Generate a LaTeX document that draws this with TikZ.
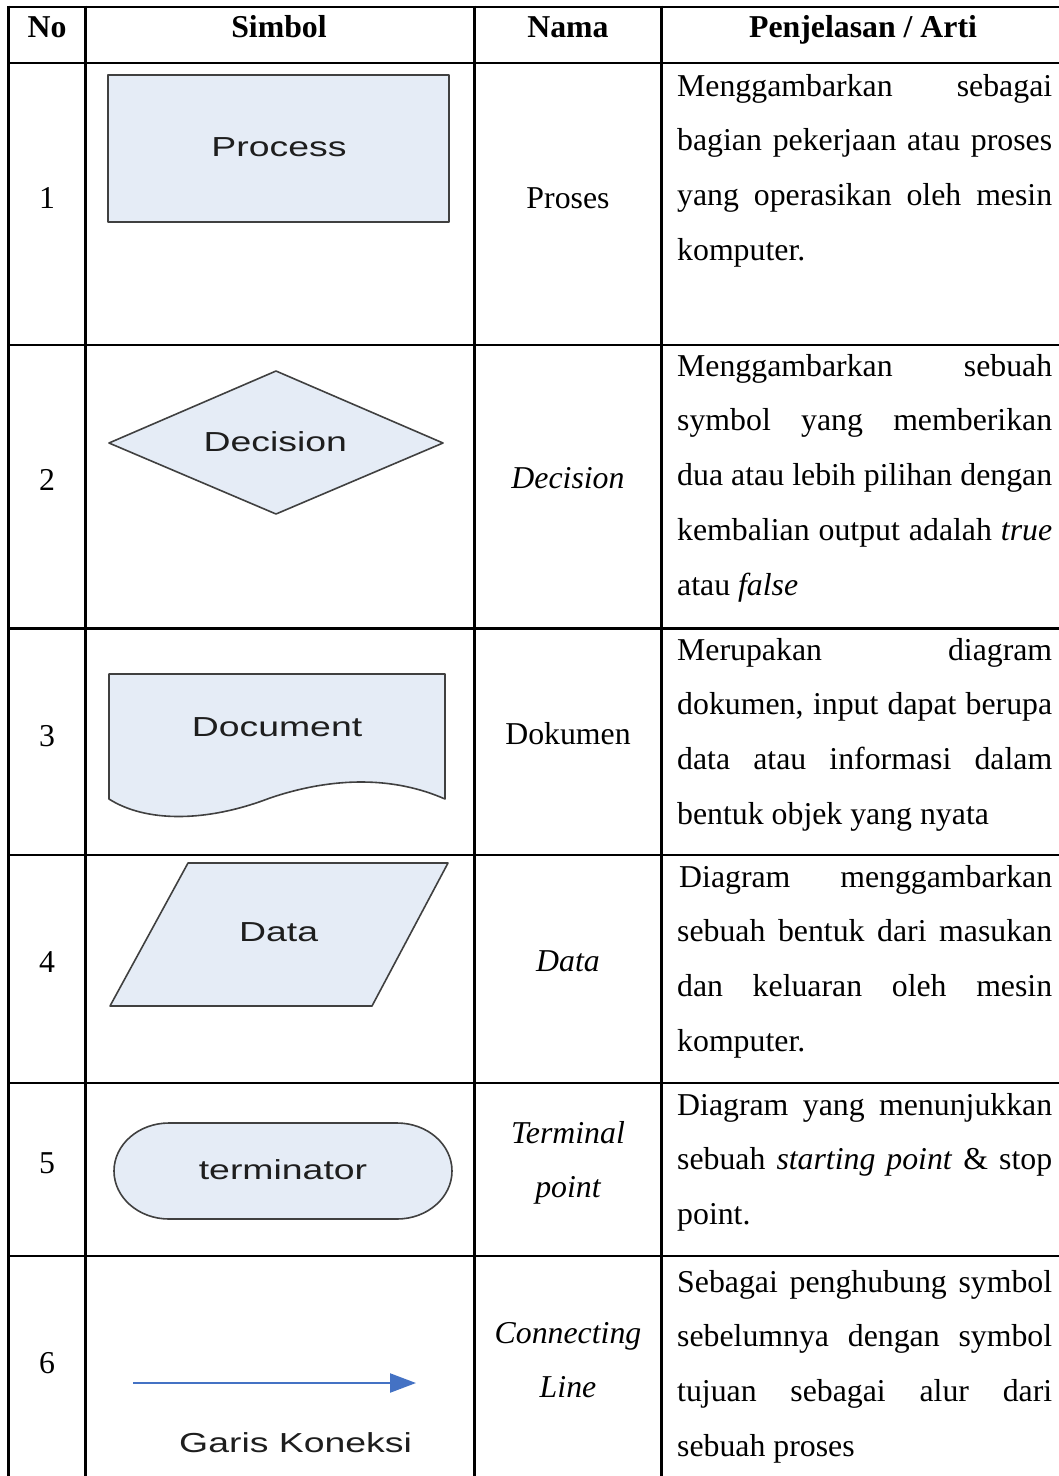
\documentclass[tikz,border=0pt]{standalone}
\usepackage{fontspec}
\setmainfont{Liberation Serif}
\newfontfamily\symfont[FakeStretch=1.36]{Liberation Sans}
\usetikzlibrary{arrows.meta}

\definecolor{symfill}{HTML}{E5ECF6}
\definecolor{symedge}{HTML}{404040}
\definecolor{symtext}{HTML}{1E1E1E}
\definecolor{arrowblue}{HTML}{4472C4}

\begin{document}
\begin{tikzpicture}[x=1pt, y=-1pt,
    font=\fontsize{31.8}{54.8}\selectfont,
    rule/.style={line width=2.8pt},
    shapeline/.style={draw=symedge, fill=symfill, line width=1.6pt, line join=round},
    symlabel/.style={anchor=base, inner sep=0pt, text=symtext, font=\symfont\fontsize{27.5}{33}\selectfont},
    cell/.style={anchor=base, inner sep=0pt},
    head/.style={cell, font=\bfseries\fontsize{31.8}{54.8}\selectfont},
    desc/.style={anchor=base west, inner sep=0pt, text width=375pt, align=justify},
    connline/.style={draw=arrowblue, line width=2.3pt, -{Triangle[length=26pt, width=19pt]}}]
    \useasboundingbox (0,0) rectangle (1059,1476);

    % table rules
    \foreach \yy in {7,63,345,628.5,855,1083,1256}
        \draw[rule] (7,\yy) -- (1062,\yy);
    \foreach \xx in {8.5,85.5,474.5,661.5}
        \draw[rule] (\xx,5.6) -- (\xx,1480);

    % header
    \node[head] (hNo) at (47,37) {No};
    \node[head] (hSimbol) at (279,37) {Simbol};
    \node[head] (hNama) at (568,37) {Nama};
    \node[head] (hArti) at (863,37) {Penjelasan / Arti};

    % row numbers
    \foreach \nn/\yy in {1/208,2/490,3/746,4/972,5/1173,6/1373}
        \node[cell] (no\nn) at (47,\yy) {\nn};

    % symbols
    \filldraw[shapeline] (108,75) rectangle (449,222);
    \node[symlabel] (symProcess) at (279,156.7) {Process};

    \filldraw[shapeline] (109,443) -- (276,371) -- (443,443) -- (276,514) -- cycle;
    \node[symlabel] (symDecision) at (275.3,451.7) {Decision};

    \filldraw[shapeline] (109,674) -- (445,674) -- (445,799)
        .. controls (395,777) and (335,776) .. (270,798)
        .. controls (205,823) and (145,822) .. (109,799) -- cycle;
    \node[symlabel] (symDocument) at (277,736.7) {Document};

    \filldraw[shapeline] (188,863) -- (448,863) -- (372,1006) -- (110,1006) -- cycle;
    \node[symlabel] (symData) at (278.7,941.7) {Data};

    \filldraw[shapeline] (169,1123) -- (397,1123)
        arc[start angle=90, end angle=-90, x radius=55pt, y radius=48pt] -- (169,1219)
        arc[start angle=270, end angle=90, x radius=55pt, y radius=48pt] -- cycle;
    \node[symlabel] (symTerminator) at (283,1179.3) {terminator};

    \coordinate (arrowTail) at (133,1383);
    \coordinate (arrowHead) at (416,1383);
    \draw[connline] (arrowTail) -- (arrowHead);
    \node[symlabel] (symGaris) at (295.6,1452.3) {Garis Koneksi};

    % nama
    \node[cell] (nama1) at (568,208) {Proses};
    \node[cell] (nama2) at (568,488) {\textit{Decision}};
    \node[cell] (nama3) at (568,744) {Dokumen};
    \node[cell] (nama4) at (568,971) {\textit{Data}};
    \node[cell, text width=180pt, align=center] (nama5) at (568,1143) {\itshape Terminal\\point};
    \node[cell, text width=180pt, align=center] (nama6) at (568,1343) {\itshape Connecting\\Line};

    % penjelasan
    \node[desc] (arti1) at (677,96) {Menggambarkan sebagai\linebreak
        bagian pekerjaan atau proses\linebreak
        yang operasikan oleh mesin\linebreak
        komputer.};
    \node[desc] (arti2) at (677,376) {Menggambarkan sebuah\linebreak
        symbol yang memberikan\linebreak
        dua atau lebih pilihan dengan\linebreak
        kembalian output adalah \textit{true}\linebreak
        atau \textit{false}};
    \node[desc] (arti3) at (677,660) {Merupakan diagram\linebreak
        dokumen, input dapat berupa\linebreak
        data atau informasi dalam\linebreak
        bentuk objek yang nyata};
    \node[desc] (arti4) at (677,887) {\hspace{2pt}Diagram menggambarkan\linebreak
        sebuah bentuk dari masukan\linebreak
        dan keluaran oleh mesin\linebreak
        komputer.};
    \node[desc] (arti5) at (677,1115) {Diagram yang menunjukkan\linebreak
        sebuah \textit{starting point} \& stop\linebreak
        point.};
    \node[desc] (arti6) at (677,1292) {Sebagai penghubung symbol\linebreak
        sebelumnya dengan symbol\linebreak
        tujuan sebagai alur dari\linebreak
        sebuah proses};
\end{tikzpicture}
\end{document}
